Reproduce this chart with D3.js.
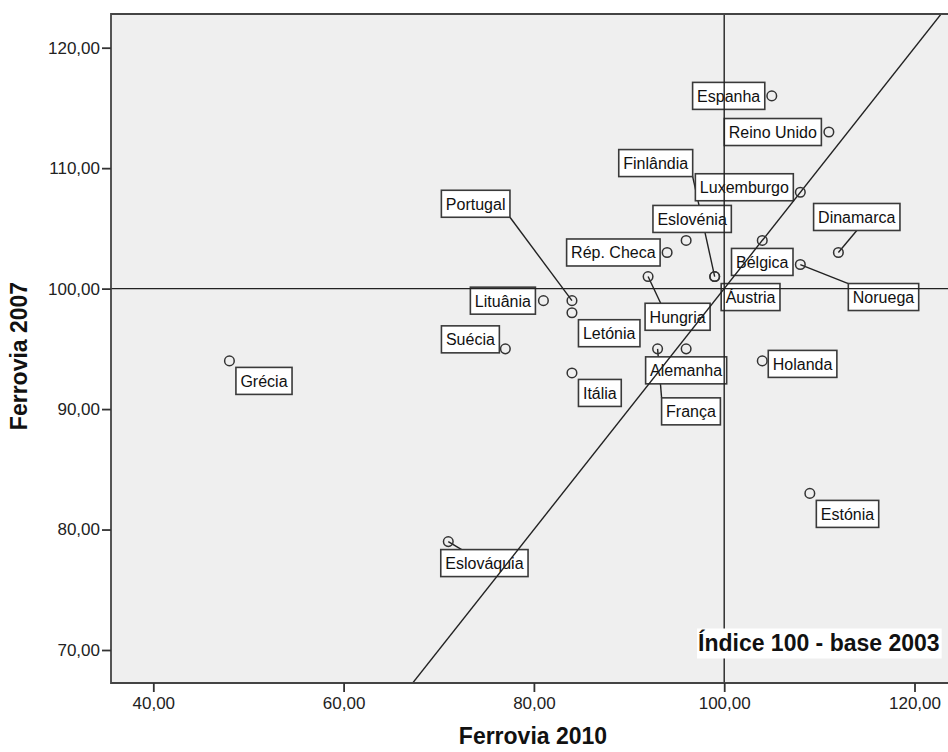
<!DOCTYPE html>
<html><head><meta charset="utf-8">
<script src="https://cdn.jsdelivr.net/npm/d3@7"></script>
<style>
body{margin:0;background:#fff}
svg{display:block}
text{font-family:"Liberation Sans",Arial,sans-serif}
</style>
</head><body>
<svg id="chart" width="948" height="752"></svg>
<script>
// ---------- data ----------
const countries = ["Espanha","Reino Unido","Finlândia","Luxemburgo","Eslovénia","Dinamarca","Rép. Checa","Bélgica","Portugal","Lituânia","Áustria","Noruega","Hungria","Letónia","Suécia","Alemanha","Grécia","Holanda","Itália","França","Estónia","Eslováquia"];
const ferrovia2010 = [105,111,99,108,96,112,94,104,84,81,99,108,92,84,77,96,48,104,84,93,109,71];
const ferrovia2007 = [116,113,101,108,104,103,103,104,99,99,101,102,101,98,95,95,94,94,93,95,83,79];
const xTicks = [40,60,80,100,120];
const yTicks = [70,80,90,100,110,120];
const referenceValue = 100;
const annotationText = "Índice 100 - base 2003";
const xTitle = "Ferrovia 2010";
const yTitle = "Ferrovia 2007";

// ---------- label layout (anchor of box ax,ay at point+dx,dy; optional leader target lx,ly on box) ----------
const labelLayout = {
  "Espanha":[1,.5,-7,0],
  "Reino Unido":[1,.5,-7.5,0],
  "Finlândia":[1,1,-22,-100,1,1],
  "Luxemburgo":[1,.5,-7,-5],
  "Eslovénia":[.5,1,6,-8],
  "Dinamarca":[.5,1,18.4,-22,.5,1],
  "Rép. Checa":[1,.5,-7,0],
  "Bélgica":[.5,0,0,8],
  "Portugal":[1,1,-62,-83.4,1,1],
  "Lituânia":[1,.5,-8,0],
  "Áustria":[0,0,6.5,7],
  "Noruega":[0,0,48,19,0,0],
  "Hungria":[0,0,-3,26.7,.24,0],
  "Letónia":[0,0,6.5,7],
  "Suécia":[1,1,-6,4],
  "Alemanha":[.5,0,0,8],
  "Grécia":[0,0,6.5,6.5],
  "Holanda":[0,.5,6,3],
  "Itália":[0,0,6.5,6.5],
  "França":[0,0,4,49,0,0],
  "Estónia":[0,0,6.5,7],
  "Eslováquia":[0,0,-7.5,8,.24,0]
};

const data = countries.map((c,i)=>({name:c, x:ferrovia2010[i], y:ferrovia2007[i]}));

const plot = {left:111, top:14, bottom:683, right:960};
const x = d3.scaleLinear().domain([40,120]).range([153.3,914.5]);
const y = d3.scaleLinear().domain([70,120]).range([650,47.7]);

const locale = d3.formatLocale({decimal:",", thousands:".", grouping:[3], currency:["€",""]});
const fmt = locale.format(".2f");

const svg = d3.select("#chart");
svg.append("defs").append("clipPath").attr("id","clip")
  .append("rect").attr("x",plot.left).attr("y",plot.top)
  .attr("width",plot.right-plot.left).attr("height",plot.bottom-plot.top);

// background
svg.append("rect").attr("x",plot.left).attr("y",plot.top)
  .attr("width",plot.right-plot.left).attr("height",plot.bottom-plot.top)
  .attr("fill","#efefef");

const gPlot = svg.append("g").attr("clip-path","url(#clip)");
const gLeaders = gPlot.append("g");
const gLabels = gPlot.append("g");
const gRefs = gPlot.append("g");
const gPoints = gPlot.append("g");

const boxH = 27, padX = 4.5;
data.forEach(d=>{
  const px = x(d.x), py = y(d.y);
  const L = labelLayout[d.name];
  const g = gLabels.append("g");
  const rect = g.append("rect");
  const t = g.append("text").text(d.name).attr("font-size",16).attr("fill","#111");
  const w = t.node().getComputedTextLength() + 2*padX;
  const bx = px + L[2] - L[0]*w;
  const by = py + L[3] - L[1]*boxH;
  rect.attr("x",bx).attr("y",by).attr("width",w).attr("height",boxH)
    .attr("fill","#fff").attr("stroke","#3a3a3a").attr("stroke-width",1.6);
  t.attr("x",bx+padX).attr("y",by+19.5);
  if (L.length > 4) {
    gLeaders.append("line")
      .attr("x1",px).attr("y1",py)
      .attr("x2",bx+L[4]*w).attr("y2",by+L[5]*boxH)
      .attr("stroke","#222").attr("stroke-width",1.4);
  }
});

// reference lines
gRefs.append("line").attr("x1",plot.left).attr("x2",plot.right)
  .attr("y1",y(referenceValue)).attr("y2",y(referenceValue))
  .attr("stroke","#222").attr("stroke-width",1.4);
gRefs.append("line").attr("y1",plot.top).attr("y2",plot.bottom)
  .attr("x1",x(referenceValue)).attr("x2",x(referenceValue))
  .attr("stroke","#222").attr("stroke-width",1.4);
gRefs.append("line").attr("x1",x(50)).attr("y1",y(50)).attr("x2",x(140)).attr("y2",y(140))
  .attr("stroke","#222").attr("stroke-width",1.4);

// points
gPoints.selectAll("circle").data(data).join("circle")
  .attr("cx",d=>x(d.x)).attr("cy",d=>y(d.y)).attr("r",4.8)
  .attr("fill","none").attr("stroke","#333").attr("stroke-width",1.5);

// frame
svg.append("path")
  .attr("d",`M${plot.right},${plot.top}H${plot.left}V${plot.bottom}H${plot.right}`)
  .attr("fill","none").attr("stroke","#444").attr("stroke-width",1.8);

// axes
const xAxis = svg.append("g").attr("transform",`translate(0,${plot.bottom})`)
  .call(d3.axisBottom(x).tickValues(xTicks).tickFormat(fmt).tickSize(9).tickSizeOuter(0).tickPadding(5));
const yAxis = svg.append("g").attr("transform",`translate(${plot.left},0)`)
  .call(d3.axisLeft(y).tickValues(yTicks).tickFormat(fmt).tickSize(9).tickSizeOuter(0).tickPadding(2));
[xAxis,yAxis].forEach(a=>{
  a.select(".domain").remove();
  a.selectAll(".tick line").attr("stroke","#333").attr("stroke-width",1.8);
  a.selectAll(".tick text").attr("font-size",17).attr("fill","#222")
    .attr("font-family","'Liberation Sans',Arial,sans-serif");
});

// annotation
const ann = svg.append("g");
const annRect = ann.append("rect").attr("fill","#fff");
const annT = ann.append("text").text(annotationText)
  .attr("x",698).attr("y",651).attr("font-size",23).attr("font-weight","bold").attr("fill","#111");
const aw = annT.node().getComputedTextLength();
annRect.attr("x",697).attr("y",628.5).attr("width",aw+3).attr("height",30);

// titles
svg.append("text").text(xTitle).attr("x",533).attr("y",744)
  .attr("text-anchor","middle").attr("font-size",23).attr("font-weight","bold").attr("fill","#111");
svg.append("text").text(yTitle)
  .attr("transform","translate(27,356) rotate(-90)")
  .attr("text-anchor","middle").attr("font-size",23).attr("font-weight","bold").attr("fill","#111");
</script>
</body></html>
